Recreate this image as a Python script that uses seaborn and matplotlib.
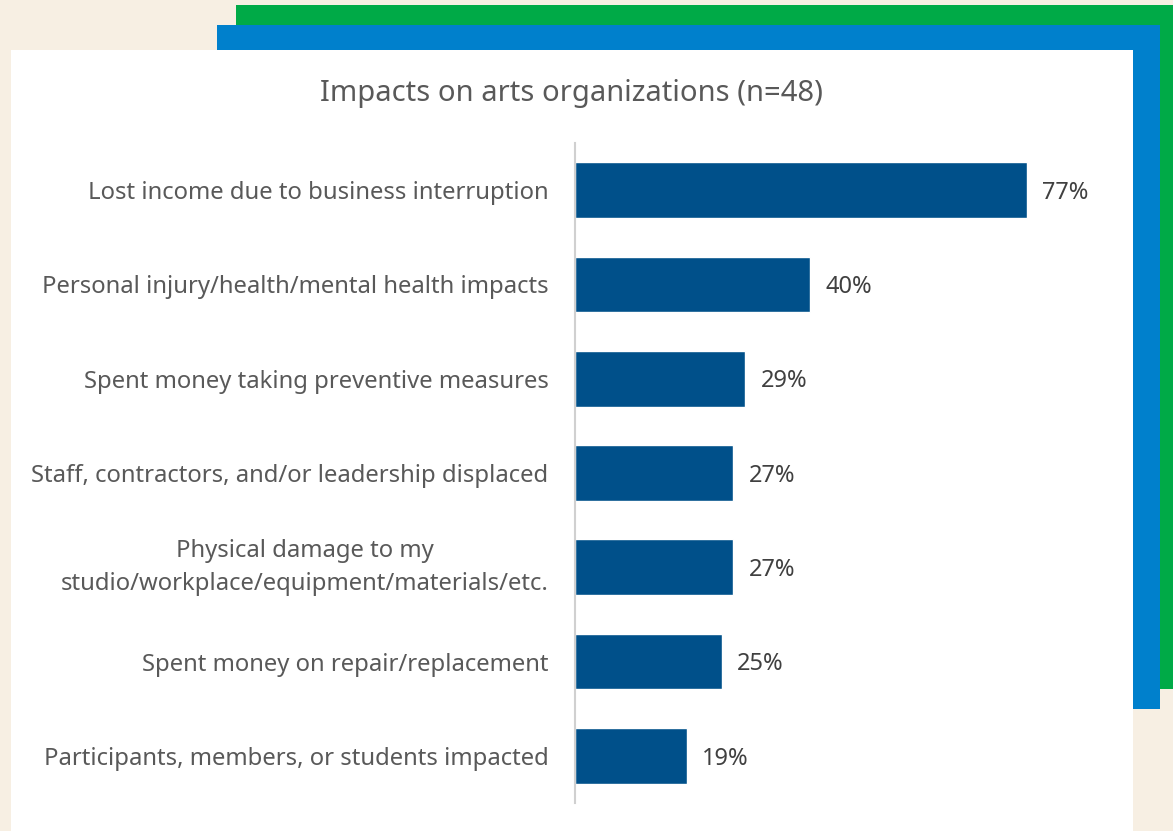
import matplotlib

matplotlib.use("Agg")
import matplotlib.pyplot as plt
import pandas as pd
import seaborn as sns
from matplotlib.patches import Rectangle

# values
categories = [
    "Lost income due to business interruption",
    "Personal injury/health/mental health impacts",
    "Spent money taking preventive measures",
    "Staff, contractors, and/or leadership displaced",
    "Physical damage to my\nstudio/workplace/equipment/materials/etc.",
    "Spent money on repair/replacement",
    "Participants, members, or students impacted",
]
percent = [77, 40, 29, 27, 27, 25, 19]
title = "Impacts on arts organizations (n=48)"

W, H = 1173, 831
BG = "#f7efe3"
GREEN = "#00aa47"
BLUE = "#0080cc"
BAR = "#00508a"
TEXT = "#595959"

sns.set_theme(style="white")
plt.rcParams["font.family"] = ["Noto Sans", "DejaVu Sans"]

df = pd.DataFrame({"category": categories, "percent": percent})

fig = plt.figure(figsize=(W / 100, H / 100), dpi=100, facecolor=BG)


def box(x0, y0, x1, y1, color):
    # pixel box (top-left origin) -> figure rectangle
    fig.patches.append(
        Rectangle((x0 / W, 1 - y1 / H), (x1 - x0) / W, (y1 - y0) / H,
                  transform=fig.transFigure, facecolor=color, edgecolor="none", zorder=-5)
    )


box(236, 5, 1180, 689, GREEN)
box(217, 25, 1160, 709, BLUE)
box(11, 50, 1133, 840, "white")

ax_l, ax_r, ax_t, ax_b = 575, 1105, 143, 803
ax = fig.add_axes([ax_l / W, 1 - ax_b / H, (ax_r - ax_l) / W, (ax_b - ax_t) / H])
ax.set_zorder(5)
ax.set_facecolor("none")

sns.barplot(data=df, y="category", x="percent", orient="h", color=BAR,
            width=0.59, saturation=1, ax=ax)

xmax = 77 * (ax_r - ax_l) / (1027 - ax_l)
ax.set_xlim(0, xmax)
ax.set_ylim(len(categories) - 0.5, -0.5)

for i, v in enumerate(percent):
    ax.annotate(f"{v}%", (v, i), xytext=(11, -2), textcoords="offset points",
                va="center", ha="left", fontsize=17, color="#404040")

ax.set_xlabel("")
ax.set_ylabel("")
ax.set_xticks([])
ax.tick_params(axis="y", length=0, pad=19, labelsize=17.2, labelcolor=TEXT)
for lab in ax.get_yticklabels():
    lab.set_multialignment("center")
    if "\n" in lab.get_text():
        lab.set_linespacing(1.5)
        lab.set_verticalalignment("center")

for side in ["top", "right", "bottom"]:
    ax.spines[side].set_visible(False)
ax.spines["left"].set_color("#d0d0d0")
ax.spines["left"].set_linewidth(1.5)

fig.text(571 / W, 1 - 93 / H, title, ha="center", va="center", fontsize=21, color=TEXT,
         zorder=6)

fig.savefig("out.png", dpi=100, facecolor=BG)
